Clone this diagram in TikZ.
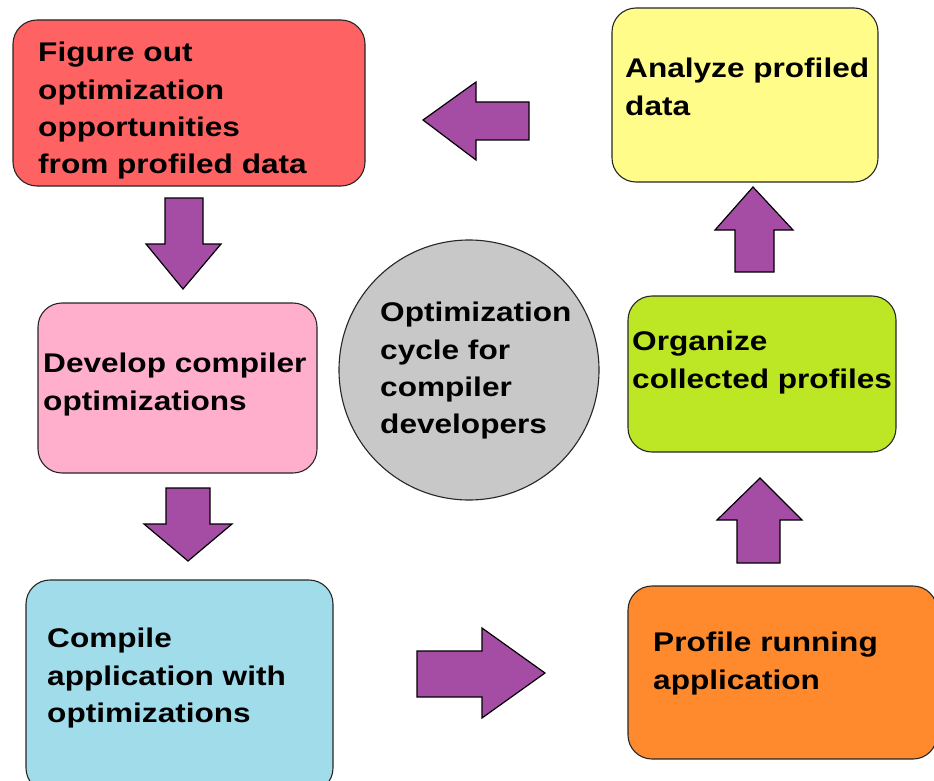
\documentclass[tikz,border=0pt]{standalone}
\usepackage{fontspec}
\setmainfont{Liberation Sans}[FakeStretch=1.17]
\begin{document}
\begin{tikzpicture}[x=1pt,y=-1pt,
  stepbox/.style={draw=black!85, line width=1.1pt, rounded corners=24pt,
    rectangle, inner sep=0pt},
  hub/.style={draw=black!85, line width=1.1pt, circle, inner sep=0pt,
    fill=hubgray, minimum size=260pt},
  label/.style={anchor=north west, inner sep=0pt, align=left,
    font=\fontsize{27}{37.3}\selectfont\bfseries},
  blockarrow/.style={draw=black, line width=1.2pt, fill=arrowpurple,
    line join=miter}
]
\definecolor{boxred}{HTML}{FF6262}
\definecolor{boxyellow}{HTML}{FFFC8A}
\definecolor{boxpink}{HTML}{FFAFCC}
\definecolor{boxgreen}{HTML}{BDE624}
\definecolor{boxblue}{HTML}{A0DCEA}
\definecolor{boxorange}{HTML}{FF8A2E}
\definecolor{hubgray}{HTML}{C8C8C8}
\definecolor{arrowpurple}{HTML}{A54CA5}

\useasboundingbox (0,0) rectangle (934,781);
\clip (0,0) rectangle (934,781);

% the six stages of the cycle
\node[stepbox, fill=boxred,    minimum width=352pt, minimum height=166pt] (figure)   at (189,103)   {};
\node[stepbox, fill=boxyellow, minimum width=266pt, minimum height=174pt] (analyze)  at (745,95)    {};
\node[stepbox, fill=boxpink,   minimum width=279pt, minimum height=170pt] (develop)  at (177.5,388) {};
\node[stepbox, fill=boxgreen,  minimum width=268pt, minimum height=156pt] (organize) at (762,374)   {};
\node[stepbox, fill=boxblue,   minimum width=307pt, minimum height=212pt] (compile)  at (179.5,686) {};
\node[stepbox, fill=boxorange, minimum width=309pt, minimum height=173pt] (profile)  at (782.5,672.5) {};

% centre circle
\node[hub] (cycle) at (469,370) {};

% stage texts
\node[label] (figuretxt)   at (38,42)   {Figure out\\optimization\\opportunities\\from profiled data};
\node[label] (analyzetxt)  at (625,58)  {Analyze profiled\\data};
\node[label] (developtxt)  at (43,353)  {Develop compiler\\optimizations};
\node[label] (organizetxt) at (632,331) {Organize\\collected profiles};
\node[label] (compiletxt)  at (47,628)  {Compile\\application with\\optimizations};
\node[label] (profiletxt)  at (653,632) {Profile running\\application};
\node[label] (cycletxt)    at (380,302) {Optimization\\cycle for\\compiler\\developers};

% block arrows between the stages
% analyze -> figure (pointing left)
\draw[blockarrow] (423,120) -- (476,82) -- (476,102) -- (529,102) -- (529,140)
  -- (476,140) -- (476,160) -- cycle;
% figure -> develop (pointing down)
\draw[blockarrow] (183,289) -- (146,244) -- (165,244) -- (165,198) -- (203,198)
  -- (203,244) -- (221,244) -- cycle;
% develop -> compile (pointing down)
\draw[blockarrow] (188,561) -- (144,524) -- (166,524) -- (166,488) -- (210,488)
  -- (210,524) -- (232,524) -- cycle;
% compile -> profile (pointing right)
\draw[blockarrow] (545,673) -- (482,628) -- (482,651) -- (417,651) -- (417,697)
  -- (482,697) -- (482,718) -- cycle;
% profile -> organize (pointing up)
\draw[blockarrow] (760,478) -- (717,520) -- (737,520) -- (737,563) -- (780,563)
  -- (780,520) -- (802,520) -- cycle;
% organize -> analyze (pointing up)
\draw[blockarrow] (753,187) -- (715,230) -- (735,230) -- (735,272) -- (774,272)
  -- (774,230) -- (793,230) -- cycle;
\end{tikzpicture}
\end{document}
